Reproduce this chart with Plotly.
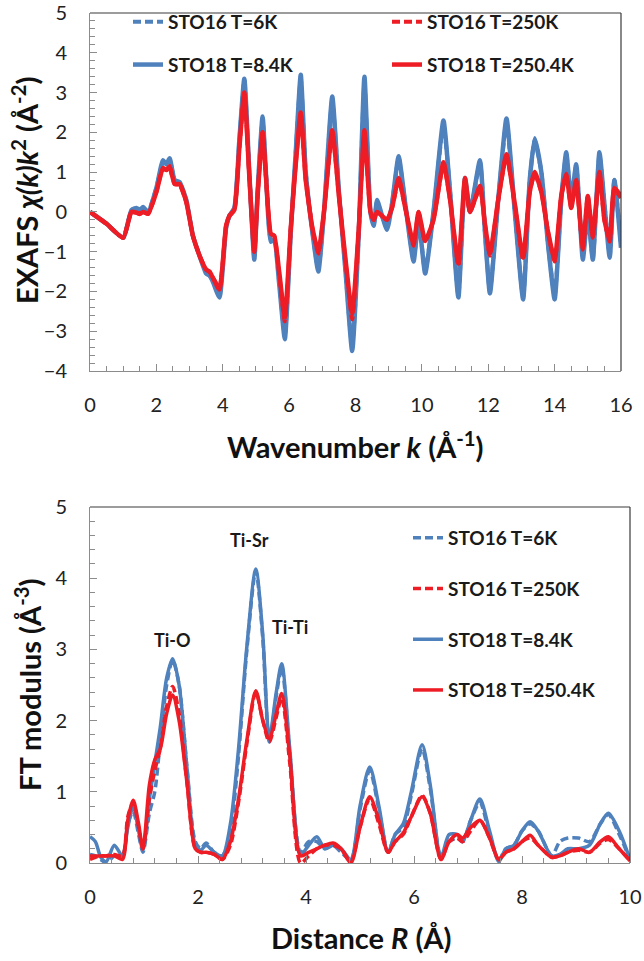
import plotly.graph_objects as go

# ---------------- data: top panel (EXAFS k^2 chi(k)) ----------------
k_vals = [0.0, 0.5, 1.0, 1.25, 1.4, 1.5, 1.6, 1.75, 2.0, 2.2, 2.3, 2.4, 2.55, 2.7, 2.9,
          3.1, 3.3, 3.5, 3.6, 3.7, 3.9, 4.1, 4.2, 4.35, 4.5, 4.65, 4.8, 4.95, 5.05, 5.2,
          5.3, 5.45, 5.55, 5.7, 5.87, 6.05, 6.2, 6.35, 6.5, 6.7, 6.88, 7.05, 7.3, 7.5, 7.7,
          7.9, 8.1, 8.27, 8.45, 8.55, 8.65, 8.8, 8.95, 9.1, 9.3, 9.5, 9.75, 9.9, 10.1, 10.35,
          10.65, 10.85, 11.1, 11.3, 11.45, 11.75, 11.9, 12.05, 12.3, 12.55, 12.8, 13.05, 13.25, 13.4, 13.6,
          13.8, 14.0, 14.2, 14.35, 14.5, 14.65, 14.85, 15.0, 15.15, 15.35, 15.5, 15.66, 15.8, 16.0]

chi_sto18_8K = [0.0, -0.3, -0.65, 0.05, 0.1, 0.05, 0.12, 0.0, 0.6, 1.3, 1.2, 1.35, 0.8, 0.75, 0.3,
                -0.6, -1.1, -1.55, -1.6, -1.75, -2.15, -0.4, -0.1, 0.1, 1.8, 3.35, 1.0, -1.2, 0.5, 2.4,
                1.0, -0.75, -0.7, -1.8, -3.2, -0.5, 1.5, 3.45, 1.0, -0.5, -1.5, 0.0, 2.9, 0.5, -1.5,
                -3.5, -0.5, 3.4, 0.0, -0.35, 0.3, -0.1, -0.45, 0.2, 1.4, 0.2, -1.25, -0.2, -1.55, 0.0,
                2.3, 0.5, -2.15, 0.85, 0.0, 1.3, -0.5, -2.05, 0.3, 2.35, 0.0, -2.2, 0.8, 1.85, 1.0,
                -0.8, -2.2, 0.3, 1.5, 0.3, 1.2, -1.2, 0.0, -1.2, 1.5, 0.2, -1.15, 0.8, -0.9]

chi_sto16_6K = [0.0, -0.3, -0.65, 0.05, 0.08, 0.05, 0.1, 0.0, 0.6, 1.25, 1.2, 1.3, 0.8, 0.72, 0.3,
                -0.6, -1.1, -1.5, -1.6, -1.7, -2.1, -0.4, -0.1, 0.1, 1.8, 3.3, 1.0, -1.15, 0.5, 2.35,
                1.0, -0.7, -0.7, -1.75, -3.1, -0.5, 1.5, 3.35, 1.0, -0.5, -1.45, 0.0, 2.8, 0.5, -1.5,
                -3.4, -0.5, 3.25, 0.0, -0.3, 0.25, -0.1, -0.4, 0.2, 1.35, 0.2, -1.2, -0.2, -1.5, 0.0,
                2.2, 0.5, -2.1, 0.8, 0.0, 1.25, -0.5, -2.0, 0.3, 2.25, 0.0, -2.15, 0.8, 1.8, 1.0,
                -0.8, -2.1, 0.3, 1.45, 0.3, 1.15, -1.1, 0.0, -1.2, 1.45, 0.2, -1.1, 0.8, -0.85]

chi_sto18_250K = [0.0, -0.3, -0.65, 0.0, -0.02, -0.05, 0.0, -0.05, 0.5, 1.1, 1.05, 1.15, 0.7, 0.7, 0.25,
                  -0.6, -1.1, -1.45, -1.5, -1.65, -1.95, -0.35, -0.1, 0.05, 1.6, 3.0, 0.9, -1.0, 0.4, 2.0,
                  0.9, -0.55, -0.6, -1.5, -2.65, -0.4, 1.2, 2.5, 0.8, -0.4, -1.0, 0.0, 2.05, 0.4, -1.2,
                  -2.55, -0.4, 2.05, 0.0, -0.2, 0.0, -0.1, -0.2, 0.1, 0.85, 0.1, -0.8, 0.0, -0.73, -0.2,
                  1.25, 0.3, -1.3, 0.85, 0.0, 0.65, -0.3, -1.05, 0.3, 1.45, 0.2, -1.15, 0.5, 1.0, 0.5,
                  -0.5, -1.2, 0.4, 0.95, 0.1, 0.8, -0.9, 0.4, -0.6, 1.0, -0.2, -0.7, 0.6, 0.4]

chi_sto16_250K = [0.0, -0.3, -0.65, 0.0, -0.02, -0.05, 0.0, -0.05, 0.5, 1.1, 1.05, 1.1, 0.7, 0.68, 0.25,
                  -0.6, -1.1, -1.45, -1.5, -1.65, -1.9, -0.35, -0.1, 0.05, 1.6, 2.95, 0.9, -1.0, 0.4, 2.0,
                  0.9, -0.55, -0.6, -1.55, -2.75, -0.4, 1.2, 2.45, 0.8, -0.4, -1.05, 0.0, 2.0, 0.4, -1.25,
                  -2.7, -0.4, 2.0, 0.0, -0.2, 0.0, -0.1, -0.2, 0.1, 0.8, 0.1, -0.85, 0.0, -0.75, -0.2,
                  1.2, 0.3, -1.35, 0.8, 0.0, 0.6, -0.3, -1.1, 0.3, 1.4, 0.2, -1.2, 0.5, 0.95, 0.5,
                  -0.5, -1.25, 0.4, 0.9, 0.1, 0.75, -0.95, 0.4, -0.65, 0.95, -0.2, -0.75, 0.55, 0.35]

# ---------------- data: bottom panel (FT modulus) ----------------
r_vals = [0.0, 0.1, 0.2, 0.3, 0.45, 0.6, 0.7, 0.8, 0.9, 0.98, 1.1, 1.2, 1.3, 1.42, 1.53,
          1.65, 1.8, 1.95, 2.05, 2.15, 2.3, 2.45, 2.6, 2.75, 2.9, 3.07, 3.2, 3.32, 3.45, 3.55,
          3.7, 3.9, 4.05, 4.2, 4.35, 4.5, 4.65, 4.83, 5.0, 5.18, 5.35, 5.52, 5.65, 5.8, 5.95,
          6.15, 6.3, 6.5, 6.65, 6.8, 6.9, 7.05, 7.22, 7.4, 7.57, 7.7, 7.85, 8.0, 8.15, 8.3,
          8.55, 8.7, 8.85, 9.05, 9.25, 9.45, 9.6, 9.8, 10.0]

ft_sto18_8K = [0.37, 0.3, 0.08, 0.02, 0.25, 0.1, 0.5, 0.8, 0.45, 0.18, 0.9, 1.4, 1.9, 2.6, 2.87,
               2.5, 1.3, 0.25, 0.18, 0.25, 0.15, 0.1, 0.55, 1.6, 3.0, 4.13, 3.2, 1.75, 2.4, 2.8,
               1.6, 0.12, 0.25, 0.37, 0.2, 0.25, 0.2, 0.05, 0.8, 1.35, 0.8, 0.15, 0.4, 0.55, 1.0,
               1.66, 1.1, 0.08, 0.4, 0.4, 0.3, 0.6, 0.9, 0.45, 0.02, 0.2, 0.25, 0.45, 0.58, 0.45,
               0.1, 0.12, 0.2, 0.2, 0.25, 0.55, 0.7, 0.45, 0.05]

ft_sto16_6K = [0.12, 0.1, 0.05, 0.0, 0.1, 0.1, 0.55, 0.72, 0.4, 0.15, 0.7, 1.0, 1.7, 2.5, 2.85,
               2.5, 1.3, 0.3, 0.2, 0.28, 0.15, 0.1, 0.45, 1.5, 2.95, 4.1, 3.15, 1.7, 2.35, 2.75,
               1.55, 0.15, 0.3, 0.3, 0.2, 0.25, 0.15, 0.05, 0.75, 1.3, 0.75, 0.15, 0.4, 0.5, 0.95,
               1.6, 1.05, 0.1, 0.3, 0.35, 0.3, 0.6, 0.85, 0.4, 0.05, 0.2, 0.25, 0.45, 0.55, 0.45,
               0.1, 0.3, 0.35, 0.35, 0.3, 0.55, 0.68, 0.4, 0.05]

ft_sto18_250K = [0.1, 0.1, 0.1, 0.1, 0.1, 0.05, 0.6, 0.88, 0.55, 0.2, 1.1, 1.45, 1.6, 2.1, 2.36,
                 2.0, 1.1, 0.2, 0.15, 0.15, 0.12, 0.05, 0.3, 0.9, 1.7, 2.42, 2.0, 1.75, 2.1, 2.38,
                 1.5, 0.1, 0.15, 0.2, 0.25, 0.28, 0.2, 0.0, 0.5, 0.93, 0.6, 0.15, 0.3, 0.42, 0.65,
                 0.93, 0.7, 0.05, 0.3, 0.4, 0.35, 0.5, 0.6, 0.35, 0.05, 0.15, 0.2, 0.3, 0.39, 0.25,
                 0.08, 0.1, 0.15, 0.2, 0.15, 0.3, 0.37, 0.2, 0.03]

ft_sto16_250K = [0.05, 0.08, 0.1, 0.1, 0.12, 0.1, 0.65, 0.85, 0.5, 0.2, 0.9, 1.3, 1.6, 2.2, 2.48,
                 2.1, 1.1, 0.2, 0.15, 0.15, 0.12, 0.05, 0.25, 0.85, 1.65, 2.4, 2.0, 1.7, 2.05, 2.32,
                 1.4, 0.0, 0.1, 0.2, 0.25, 0.25, 0.2, 0.02, 0.5, 0.9, 0.55, 0.15, 0.3, 0.4, 0.65,
                 0.95, 0.7, 0.05, 0.3, 0.35, 0.3, 0.45, 0.6, 0.35, 0.05, 0.15, 0.2, 0.3, 0.35, 0.25,
                 0.08, 0.1, 0.15, 0.18, 0.15, 0.28, 0.33, 0.2, 0.03]

assert len(k_vals) == len(chi_sto18_8K) == len(chi_sto16_6K) == len(chi_sto18_250K) == len(chi_sto16_250K)
assert len(r_vals) == len(ft_sto18_8K) == len(ft_sto16_6K) == len(ft_sto18_250K) == len(ft_sto16_250K)

names = ["STO16 T=6K", "STO16 T=250K", "STO18 T=8.4K", "STO18 T=250.4K"]
peak_labels = ["Ti-O", "Ti-Sr", "Ti-Ti"]
peak_pos = [(1.53, 3.13), (2.95, 4.54), (3.7, 3.31)]

BLUE = "#4F81BD"
RED = "#EE1C25"
DASH = "8px,4px"
FONT = "Lato"
W, H = 644, 961
ML, MR, MT, MB = 90, 14, 13, 98


def px_x(p):
    return (p - ML) / (W - ML - MR)


def px_y(p):
    return (H - MB - p) / (H - MT - MB)


fig = go.Figure()

# top panel traces
top = [
    (chi_sto16_6K, names[0], BLUE, DASH, "legend2", 4.0),
    (chi_sto18_8K, names[2], BLUE, "solid", "legend2", 4.5),
    (chi_sto16_250K, names[1], RED, DASH, "legend3", 4.0),
    (chi_sto18_250K, names[3], RED, "solid", "legend3", 4.5),
]
for i, (vals, nm, col, dash, lg, w) in enumerate(top):
    fig.add_trace(go.Scatter(x=k_vals, y=vals, mode="lines", name=nm,
                             line=dict(color=col, width=w, dash=dash, shape="spline", smoothing=0.5),
                             xaxis="x", yaxis="y", legend=lg, legendgroup="t%d" % i))

bottom = [
    (ft_sto16_6K, names[0], BLUE, DASH, 1),
    (ft_sto18_8K, names[2], BLUE, "solid", 3),
    (ft_sto16_250K, names[1], RED, DASH, 2),
    (ft_sto18_250K, names[3], RED, "solid", 4),
]
for i, (vals, nm, col, dash, rank) in enumerate(bottom):
    fig.add_trace(go.Scatter(x=r_vals, y=vals, mode="lines", name=nm,
                             line=dict(color=col, width=3.5, dash=dash, shape="spline", smoothing=0.8),
                             xaxis="x2", yaxis="y2", legend="legend4",
                             legendgroup="b%d" % i, legendrank=rank))

tick_font = dict(family=FONT, size=20, color="#222222")
axis_common = dict(showgrid=False, zeroline=False, showline=True, linecolor="#8c8c8c",
                   linewidth=1, ticks="inside", ticklen=7, tickcolor="#8c8c8c",
                   tickfont=tick_font, automargin=False, ticklabeloverflow="allow")

leg_font = dict(family=FONT, size=19, weight="bold", color="#1a1a1a")
minor_y = dict(dtick=0.2, ticks="inside", ticklen=5, tickcolor="#8c8c8c")

fig.update_layout(
    width=W, height=H, margin=dict(l=ML, r=MR, t=MT, b=MB, autoexpand=False),
    plot_bgcolor="white", paper_bgcolor="white",
    xaxis=dict(domain=[0, px_x(621)], range=[0, 16], dtick=2, anchor="y",
               minor=dict(dtick=0.5, ticks="inside", ticklen=5, tickcolor="#8c8c8c"),
               ticklabelstandoff=16, **axis_common),
    yaxis=dict(domain=[px_y(371), 1], range=[-4, 5], dtick=1, anchor="x",
               minor=minor_y, ticklabelstandoff=18, **axis_common),
    xaxis2=dict(domain=[0, 1], range=[0, 10], dtick=2, anchor="y2",
                minor=dict(dtick=0.4, ticks="inside", ticklen=5, tickcolor="#8c8c8c"),
                ticklabelstandoff=16, **axis_common),
    yaxis2=dict(domain=[0, px_y(507)], range=[0, 5], dtick=1, anchor="x2",
                minor=minor_y, ticklabelstandoff=18, **axis_common),
    legend2=dict(x=px_x(128), y=px_y(3), xanchor="left", yanchor="top",
                 bgcolor="rgba(0,0,0,0)", tracegroupgap=15, font=leg_font),
    legend3=dict(x=px_x(387), y=px_y(3), xanchor="left", yanchor="top",
                 bgcolor="rgba(0,0,0,0)", tracegroupgap=15, font=leg_font),
    legend4=dict(x=px_x(408), y=px_y(519), xanchor="left", yanchor="top",
                 bgcolor="rgba(0,0,0,0)", tracegroupgap=23, font=leg_font),
)

# dark top/right frame lines
for xa, ya in (("x", "y"), ("x2", "y2")):
    fig.add_shape(type="line", xref=xa + " domain", yref=ya + " domain",
                  x0=0, x1=1, y0=1, y1=1, line=dict(color="#3a3a3a", width=1.2))
    fig.add_shape(type="line", xref=xa + " domain", yref=ya + " domain",
                  x0=1, x1=1, y0=0, y1=1, line=dict(color="#3a3a3a", width=1.2))

# peak labels
for txt, (xx, yy) in zip(peak_labels, peak_pos):
    fig.add_annotation(x=xx, y=yy, xref="x2", yref="y2", text=txt, showarrow=False,
                       xanchor="center", yanchor="middle",
                       font=dict(family=FONT, size=18, weight="bold", color="#1a1a1a"))

# axis titles
title_font = dict(family=FONT, size=29, weight="bold", color="#111111")
titles = [
    ("Wavenumber <i>k</i> (Å<sup>-1</sup>)", 355, 445, 0),
    ("Distance <i>R</i> (Å)", 361, 938, 0),
    ("EXAFS <i>χ(k)k</i><sup>2</sup> (Å<sup>-2</sup>)", 25, 191, -90),
    ("FT modulus (Å<sup>-3</sup>)", 28, 685, -90),
]
for txt, px, py, ang in titles:
    fig.add_annotation(xref="paper", yref="paper", x=px_x(px), y=px_y(py), textangle=ang,
                       xanchor="center", yanchor="middle",
                       text=txt, showarrow=False, font=title_font)

fig.write_html("out.html", config={"displayModeBar": False},
               post_script="document.body.style.margin='0px';document.body.style.padding='0px';")
